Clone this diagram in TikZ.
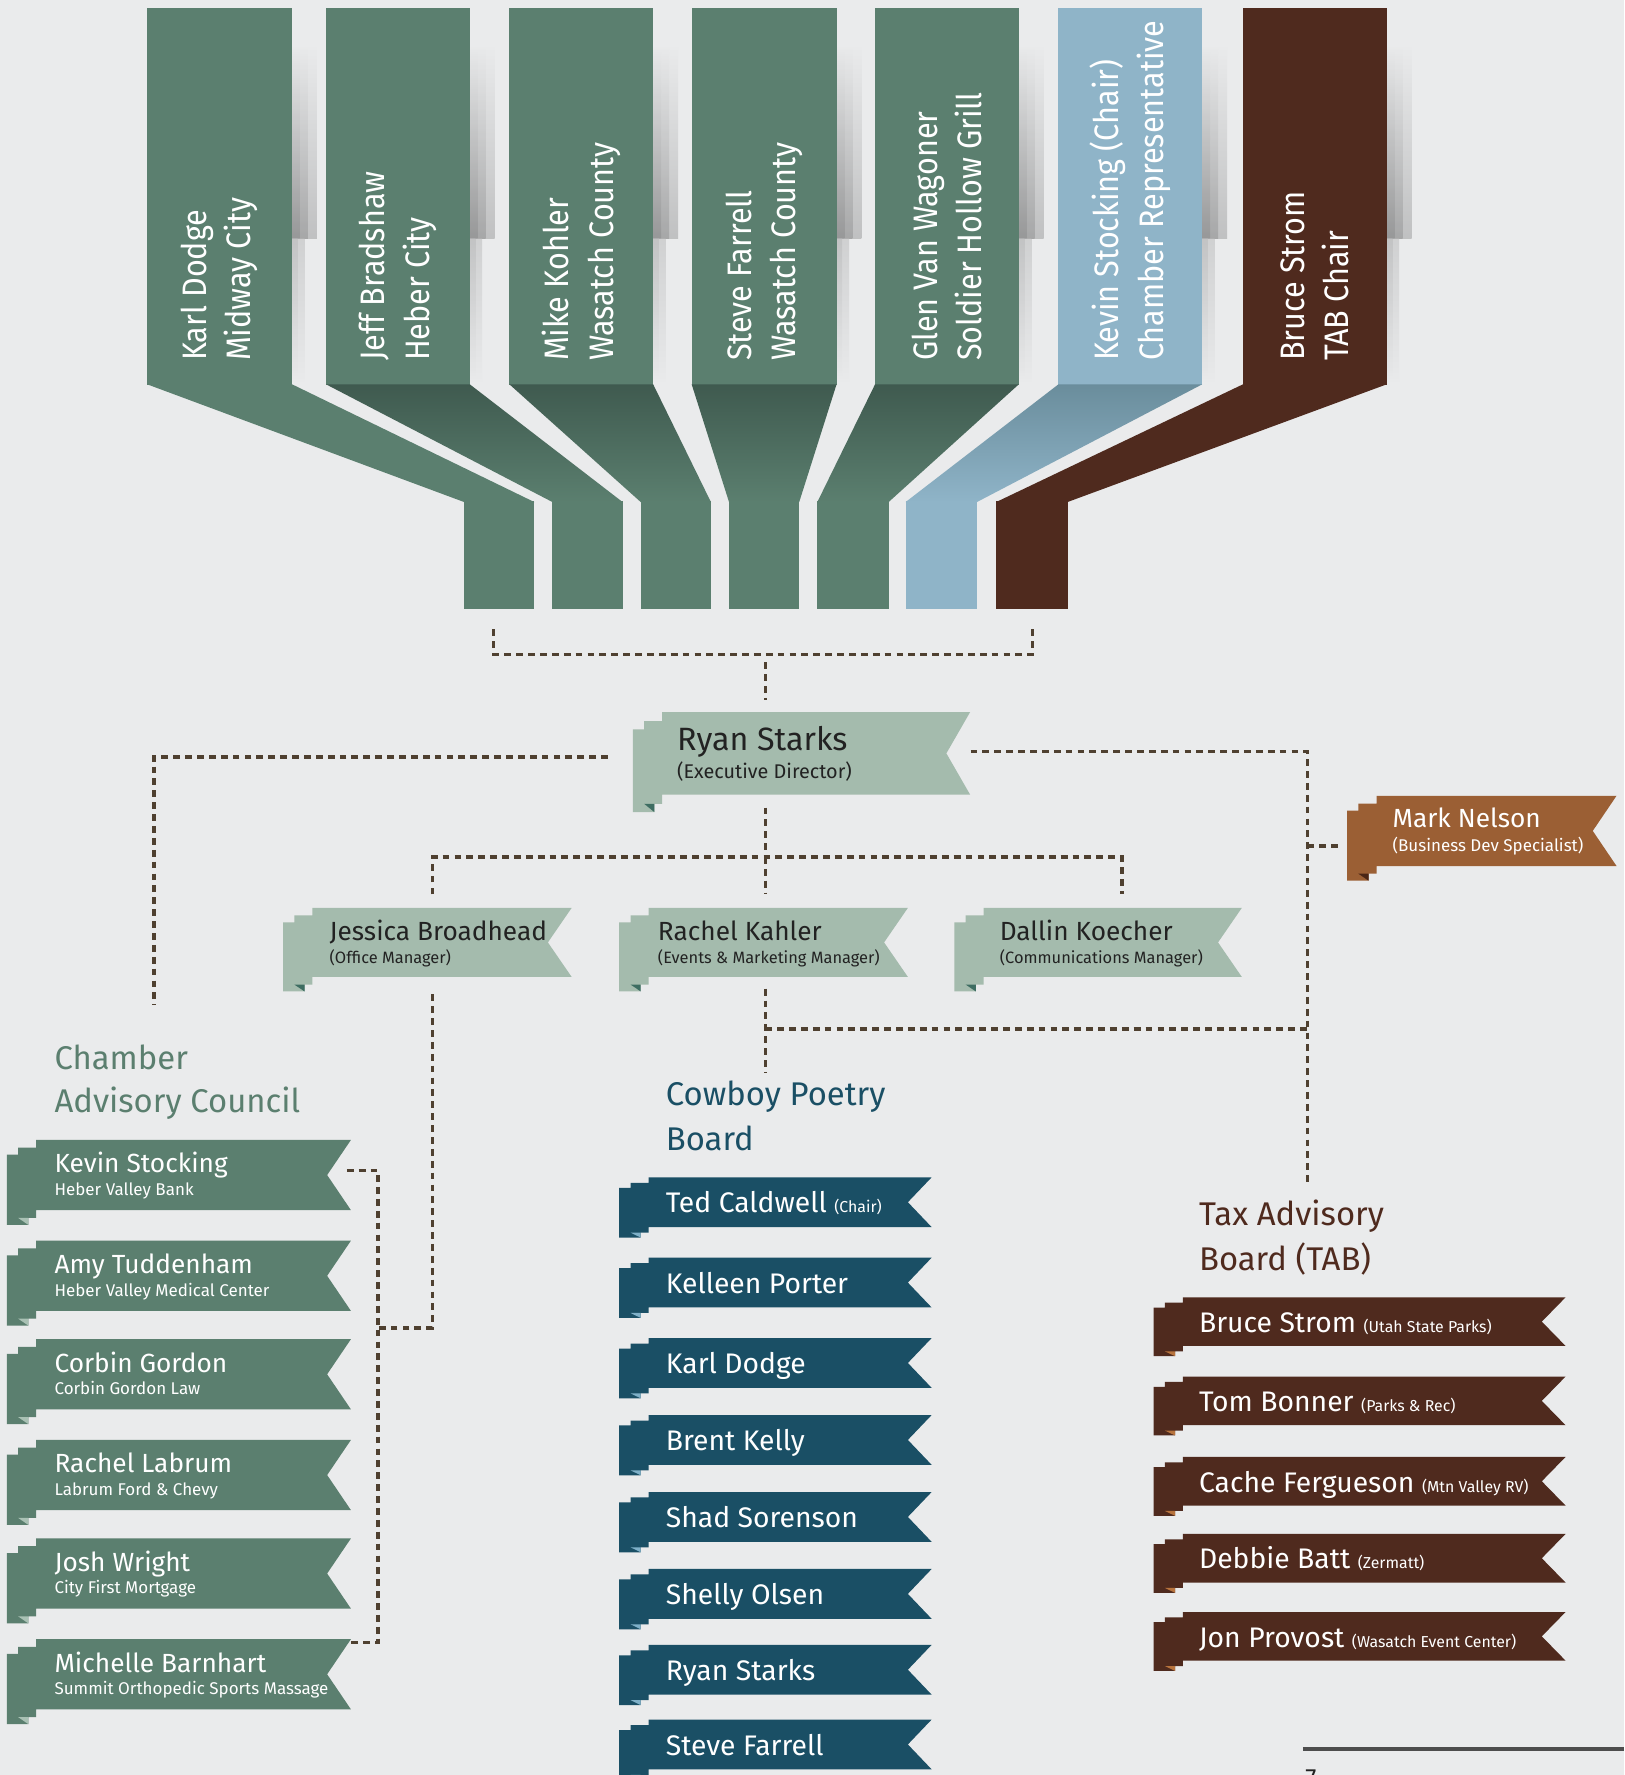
\documentclass[tikz,border=0pt]{standalone}
\usepackage{fontspec}
\setmainfont{Fira Sans}
\newfontfamily\colfont[FakeStretch=0.9]{Fira Sans}
\usetikzlibrary{calc}

\definecolor{paper}{HTML}{EAEBEC}
\definecolor{sage}{HTML}{5B7F6F}
\definecolor{sagedark}{HTML}{3F5A4F}
\definecolor{sagefold}{HTML}{A9C1B4}
\definecolor{mint}{HTML}{A4BBAD}
\definecolor{mintfold}{HTML}{3E6D62}
\definecolor{sky}{HTML}{8FB4C8}
\definecolor{skydark}{HTML}{6A8D9C}
\definecolor{bark}{HTML}{4F2A1E}
\definecolor{barkfold}{HTML}{B7733D}
\definecolor{petrol}{HTML}{1A4F65}
\definecolor{petrolfold}{HTML}{7FB0C8}
\definecolor{copper}{HTML}{9B5F34}
\definecolor{copperfold}{HTML}{4A2616}
\definecolor{dotcol}{HTML}{4F4030}
\definecolor{ink}{HTML}{222222}
\definecolor{rulegray}{HTML}{4D4D4D}

\tikzset{
  dots/.style={draw=dotcol, line width=3pt, dash pattern=on 6pt off 4.5pt},
  colname/.style={rotate=90, anchor=west, align=left, text=white, inner sep=0pt,
    font=\colfont\fontsize{30}{39}\selectfont},
  boardtitle/.style={anchor=base west, inner sep=0pt, font=\fontsize{29}{29}\selectfont},
  bigname/.style={anchor=base west, inner sep=0pt, font=\fontsize{25}{25}\selectfont},
  midname/.style={anchor=base west, inner sep=0pt, font=\fontsize{23.2}{24}\selectfont},
  subname/.style={anchor=base west, inner sep=0pt, font=\fontsize{15}{15}\selectfont},
}
\newcommand\tagfont{\fontsize{14}{14}\selectfont}

% ribbon: #1 node name, #2 left, #3 top, #4 right, #5 height, #6 colour, #7 fold colour
\newcommand\ribbon[7]{%
  \fill[#6] (#2,#3) -- (#4,#3) -- (#4-21,#3+#5/2) -- (#4,#3+#5)
    -- (#2,#3+#5) -- (#2,#3+1.11*#5) -- (#2-7,#3+1.11*#5) -- (#2-7,#3+1.21*#5)
    -- (#2-26,#3+1.21*#5) -- (#2-26,#3+0.21*#5) -- (#2-16,#3+0.21*#5)
    -- (#2-16,#3+0.11*#5) -- (#2,#3+0.11*#5) -- cycle;
  \fill[#7] (#2-16,#3+1.11*#5) -- (#2-7,#3+1.11*#5) -- (#2-7,#3+1.21*#5) -- cycle;
  \pgfmathsetmacro\rwidth{#4-#2}%
  \path (#2,#3) node[anchor=north west, inner sep=0pt,
    minimum width=\rwidth pt, minimum height=#5pt] (#1) {};
}

\begin{document}
\begin{tikzpicture}[x=1pt,y=-1pt]
\path[use as bounding box, fill=paper] (0,0) rectangle (1435,1568);

% board columns
\foreach \a/\b/\c/\d/\clr/\dk/\txt [count=\i] in {
  130/258/410/472/sage/sage/{Karl Dodge\\Midway City},
  288/415/488/550/sage/sagedark/{Jeff Bradshaw\\Heber City},
  450/577/566/628/sage/sagedark/{Mike Kohler\\Wasatch County},
  611/739/644/706/sage/sagedark/{Steve Farrell\\Wasatch County},
  773/900/722/785/sage/sagedark/{Glen Van Wagoner\\Soldier Hollow Grill},
  935/1062/800/863/sky/skydark/{Kevin Stocking (Chair)\\Chamber Representative},
  1098/1225/880/943/bark/bark/{Bruce Strom\\TAB Chair}}
{
  \foreach \w in {7,14,22}
    \shade[top color=paper, bottom color=black!45!paper, opacity=0.4] (\b,40) rectangle (\b+\w,211);
  \foreach \w in {5,11}
    \shade[top color=black!22!paper, bottom color=paper, opacity=0.5] (\b,211) rectangle (\b+\w,338);
  \fill[\clr] (\a,7) rectangle (\b,340);
  \fill[\clr] (\c,443) rectangle (\d,538);
  \shade[top color=\dk, bottom color=\clr] (\a,339.5) -- (\b,339.5) -- (\d,443.5) -- (\c,443.5) -- cycle;
  \node[colname] (col\i) at ({(\a+\b)/2},319) {\txt};
}

% staff
\ribbon{ryan}{585}{629}{857}{73}{mint}{mintfold}
\node[font=\fontsize{28.5}{29}\selectfont, anchor=base west, inner sep=0pt, text=ink]
  (ryan-who) at ($(ryan.north west)+(13,34)$) {Ryan Starks};
\node[font=\fontsize{17.5}{18}\selectfont, anchor=base west, inner sep=0pt, text=ink]
  (ryan-job) at ($(ryan.north west)+(13,59)$) {(Executive Director)};

\foreach \id/\l/\r/\dx/\who/\job in {
  jb/276/505/15/Jessica Broadhead/(Office Manager),
  rk/573/802/8/Rachel Kahler/(Events \& Marketing Manager),
  dk/869/1097/14/Dallin Koecher/(Communications Manager)}
{
  \ribbon{\id}{\l}{802}{\r}{61}{mint}{mintfold}
  \node[midname, text=ink] (\id-who) at ($(\id.north west)+(\dx,29)$) {\who};
  \node[subname, text=ink, font=\fontsize{14.5}{15}\selectfont] (\id-job) at ($(\id.north west)+(\dx,49)$) {\job};
}

\ribbon{mn}{1216}{703}{1428}{62}{copper}{copperfold}
\node[midname, text=white] (mn-who) at ($(mn.north west)+(14,28)$) {Mark Nelson};
\node[subname, text=white] (mn-job) at ($(mn.north west)+(14,49)$) {(Business Dev Specialist)};

% chamber advisory council
\node[boardtitle, text=sage] (cac-t1) at (48,945) {Chamber};
\node[boardtitle, text=sage] (cac-t2) at (48,983) {Advisory Council};
\foreach \t/\who/\firm [count=\i] in {
  1007/Kevin Stocking/Heber Valley Bank,
  1096/Amy Tuddenham/Heber Valley Medical Center,
  1183/Corbin Gordon/Corbin Gordon Law,
  1272/Rachel Labrum/Labrum Ford \& Chevy,
  1359/Josh Wright/City First Mortgage,
  1448/Michelle Barnhart/Summit Orthopedic Sports Massage}
{
  \ribbon{cac\i}{32}{\t}{310}{62}{sage}{sagefold}
  \node[midname, text=white] (cac\i-who) at ($(cac\i.north west)+(16,29)$) {\who};
  \node[subname, text=white] (cac\i-firm) at ($(cac\i.north west)+(16,49)$) {\firm};
}

% cowboy poetry board
\node[boardtitle, text=petrol] (cpb-t1) at (588,977) {Cowboy Poetry};
\node[boardtitle, text=petrol] (cpb-t2) at (588,1016) {Board};
\foreach \t/\who [count=\i] in {
  1040/Ted Caldwell {\tagfont (Chair)}, 1111/Kelleen Porter, 1182/Karl Dodge,
  1250/Brent Kelly, 1318/Shad Sorenson, 1386/Shelly Olsen,
  1453/Ryan Starks, 1519/Steve Farrell}
{
  \ribbon{cpb\i}{573}{\t}{823}{44}{petrol}{petrolfold}
  \node[bigname, text=white] (cpb\i-who) at ($(cpb\i.north west)+(15,31.5)$) {\who};
}

% tax advisory board
\node[boardtitle, text=bark] (tab-t1) at (1059,1083) {Tax Advisory};
\node[boardtitle, text=bark] (tab-t2) at (1059,1122) {Board (TAB)};
\foreach \t/\who [count=\i] in {
  1146/Bruce Strom {\tagfont (Utah State Parks)},
  1216/Tom Bonner {\tagfont (Parks \& Rec)},
  1287/Cache Fergueson {\tagfont (Mtn Valley RV)},
  1355/Debbie Batt {\tagfont (Zermatt)},
  1424/Jon Provost {\tagfont (Wasatch Event Center)}}
{
  \ribbon{tab\i}{1045}{\t}{1383}{43}{bark}{barkfold}
  \node[bigname, text=white] (tab\i-who) at ($(tab\i.north west)+(14,31)$) {\who};
}

% dotted lines
\coordinate (foot1) at (436,556);
\coordinate (foot7) at (912,556);
\coordinate (hub) at (676,578);
\coordinate (staffbar) at (676,757);
\coordinate (jbtap) at (382,790);
\coordinate (rktap) at (676,790);
\coordinate (dktap) at (991,790);
\coordinate (cactop) at (136,888);
\coordinate (tabtop) at (1155,1045);
\coordinate (jbfoot) at (382,1173);
\coordinate (cacbar) at (334,1451);
\coordinate (rkjoin) at (676,909);
\coordinate (cpbtop) at (676,948);

\draw[dots] (foot1) |- (hub) -| (foot7);
\draw[dots, shorten <=7pt, shorten >=11pt] (hub) -- (ryan.north -| hub);
\draw[dots, shorten <=48pt] ([yshift=-3pt]ryan.west) -| (cactop);
\draw[dots] ([yshift=2pt]ryan.east) -| (tabtop);
\draw[dots, shorten >=34pt] ([yshift=-13pt]mn.west -| tabtop) -- ([yshift=-13pt]mn.west);
\draw[dots, shorten <=11pt] (ryan.south -| hub) -- (staffbar);
\draw[dots] (jbtap) |- (staffbar) -| (dktap);
\draw[dots] (staffbar) -- (rktap);
\draw[dots, shorten <=15pt] (jb.south -| jbfoot) -- (jbfoot) -- (jbfoot -| cacbar);
\draw[dots] ([xshift=-4pt,yshift=4pt]cac1.east) -| (cacbar) -- (cac6.north east |- cacbar);
\draw[dots, shorten <=10pt] (rk.south -| cpbtop) -- (cpbtop);
\draw[dots] (rkjoin) -- (rkjoin -| tabtop);

% page rule
\draw[rulegray, line width=3.5pt] (1151,1545) -- (1435,1545);
\node[anchor=north west, inner sep=0pt, text=ink, font=\fontsize{22}{22}\selectfont] (pageno) at (1153,1563) {7};
\end{tikzpicture}
\end{document}
